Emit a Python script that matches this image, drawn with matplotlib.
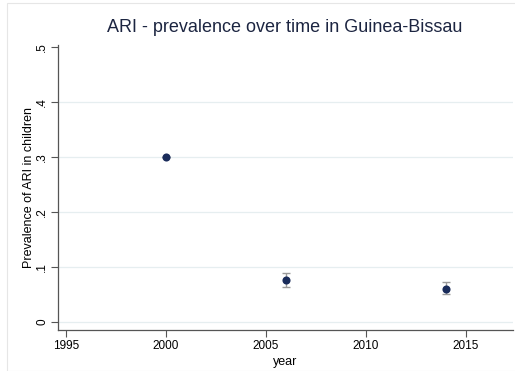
import matplotlib
matplotlib.use("Agg")
import matplotlib.pyplot as plt
from matplotlib.patches import Rectangle

years = [2000, 2006, 2014]
prevalence = [0.300, 0.076, 0.061]
ci_low = [0.300, 0.064, 0.051]
ci_high = [0.300, 0.089, 0.072]

xticks = [1995, 2000, 2005, 2010, 2015]
yticks = [0, 0.1, 0.2, 0.3, 0.4, 0.5]
ytick_labels = ["0", ".1", ".2", ".3", ".4", ".5"]

plt.rcParams['font.family'] = ['Liberation Sans', 'DejaVu Sans']

W, H = 515, 371
fig = plt.figure(figsize=(W/100, H/100), dpi=100)
fig.patch.set_facecolor('white')

# light figure border
fig.patches.append(Rectangle((7/W, 0), (520-7)/W, 1 - 3/H, transform=fig.transFigure,
                             fill=False, edgecolor='#e6e6e6', linewidth=0.8))

ax = fig.add_axes([58/W, 1-330/H, (513-58)/W, (330-45)/H])
ax.set_xlim(1994.6, 2017.35)
ax.set_ylim(-0.0145, 0.504)

for y in yticks[:-1]:
    ax.axhline(y, color='#e6eef0', linewidth=0.9, zorder=0)

yerr_lo = [p - l for p, l in zip(prevalence, ci_low)]
yerr_hi = [h - p for p, h in zip(prevalence, ci_high)]
ax.errorbar(years, prevalence, yerr=[yerr_lo, yerr_hi], fmt='none',
            ecolor='#9a9a9a', elinewidth=1.0, capsize=3, capthick=1.0, zorder=2)
ax.scatter(years, prevalence, s=34, color='#1a2c5b', zorder=3, linewidths=0)

for s in ['top', 'right']:
    ax.spines[s].set_visible(False)
for s in ['left', 'bottom']:
    ax.spines[s].set_color('#555555')
    ax.spines[s].set_linewidth(0.9)

ax.set_xticks(xticks)
ax.set_xticklabels([str(x) for x in xticks], fontsize=8.5)
ax.set_yticks(yticks)
ax.set_yticklabels(ytick_labels, fontsize=8.5, rotation=90, va='center')
ax.tick_params(axis='both', direction='out', length=5, width=0.8, color='#555555',
               labelcolor='#000000', pad=2)

ax.set_xlabel('year', fontsize=9, color='#000000', labelpad=3)
ax.set_ylabel('Prevalence of ARI in children', fontsize=9, color='#000000', labelpad=1)

fig.text(285/W, 1-28/H, 'ARI - prevalence over time in Guinea-Bissau', ha='center', va='center',
         fontsize=13, color='#1c2541')

fig.savefig('out.png', dpi=100, facecolor='white')
